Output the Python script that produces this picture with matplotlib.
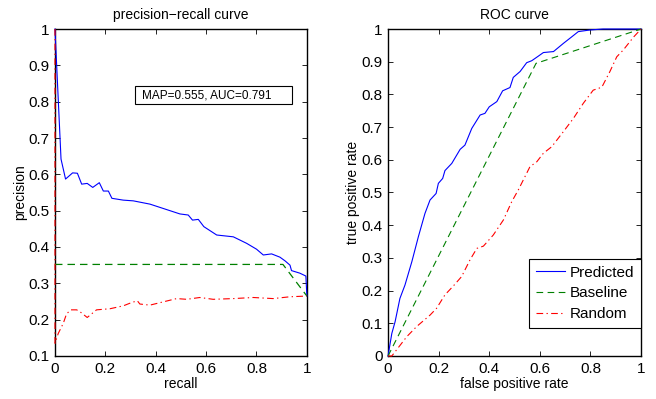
import numpy as np
import matplotlib
matplotlib.use('Agg')
from matplotlib import pyplot as plt
from matplotlib.patches import Rectangle
from matplotlib.ticker import FuncFormatter

plt.rcParams['font.family'] = ['Liberation Sans', 'DejaVu Sans']

# precision-recall data
pr_recall = [0.0, 0.024, 0.042, 0.07, 0.089, 0.106, 0.128, 0.15, 0.176, 0.192, 0.212, 0.226,
             0.271, 0.311, 0.377, 0.43, 0.496, 0.529, 0.546, 0.569, 0.591, 0.642, 0.708,
             0.761, 0.8, 0.827, 0.86, 0.893, 0.913, 0.933, 0.939, 0.972, 0.996, 1.0]
pr_precision = [1.0, 0.642, 0.587, 0.604, 0.603, 0.573, 0.575, 0.564, 0.577, 0.554, 0.554, 0.534,
                0.529, 0.527, 0.518, 0.506, 0.491, 0.488, 0.474, 0.476, 0.456, 0.433, 0.428,
                0.41, 0.394, 0.378, 0.381, 0.372, 0.362, 0.35, 0.335, 0.328, 0.32, 0.265]

base_recall = [0.0, 0.905, 1.0]
base_precision = [0.352, 0.352, 0.265]

rand_recall = [0.0, 0.0, 0.013, 0.033, 0.046, 0.063, 0.086, 0.099, 0.128, 0.165, 0.218, 0.271,
               0.304, 0.327, 0.337, 0.377, 0.43, 0.483, 0.523, 0.575, 0.628, 0.708, 0.787,
               0.866, 0.933, 1.0]
rand_precision = [1.0, 0.135, 0.162, 0.19, 0.216, 0.227, 0.227, 0.222, 0.206, 0.227, 0.23, 0.238,
                  0.247, 0.252, 0.243, 0.24, 0.249, 0.258, 0.256, 0.261, 0.256, 0.258, 0.261,
                  0.258, 0.263, 0.265]

# ROC data
roc_fpr = [0.0, 0.015, 0.028, 0.047, 0.067, 0.094, 0.12, 0.146, 0.166, 0.19, 0.199, 0.216,
           0.225, 0.252, 0.285, 0.304, 0.331, 0.364, 0.383, 0.4, 0.43, 0.453, 0.482, 0.495,
           0.522, 0.548, 0.568, 0.594, 0.614, 0.654, 0.693, 0.726, 0.752, 0.798, 0.85, 1.0]
roc_tpr = [0.0, 0.069, 0.105, 0.176, 0.217, 0.288, 0.365, 0.436, 0.477, 0.497, 0.528, 0.543,
           0.567, 0.589, 0.632, 0.645, 0.696, 0.737, 0.742, 0.762, 0.778, 0.811, 0.821, 0.852,
           0.87, 0.897, 0.903, 0.917, 0.928, 0.931, 0.956, 0.976, 0.992, 0.997, 1.0, 1.0]

base_fpr = [0.0, 0.585, 1.0]
base_tpr = [0.0, 0.895, 1.0]

rand_fpr = [0.0, 0.015, 0.074, 0.113, 0.166, 0.192, 0.225, 0.258, 0.291, 0.324, 0.351, 0.377,
            0.416, 0.456, 0.489, 0.515, 0.561, 0.588, 0.614, 0.647, 0.693, 0.733, 0.772, 0.811,
            0.845, 0.877, 0.904, 0.93, 0.97, 1.0]
rand_tpr = [0.0, 0.0, 0.059, 0.09, 0.125, 0.146, 0.187, 0.214, 0.243, 0.294, 0.329, 0.336,
            0.37, 0.416, 0.472, 0.508, 0.579, 0.594, 0.62, 0.64, 0.686, 0.727, 0.773, 0.813,
            0.822, 0.87, 0.915, 0.936, 0.975, 1.0]

map_auc_text = 'MAP=0.555, AUC=0.791'

blue = (0, 0, 1)
green = (0, 0.5, 0)
red = (1, 0, 0)
dash = (0, (6, 4))
dashdot = (0, (6, 3, 1.2, 3))

fmt = FuncFormatter(lambda v, p: '%g' % round(v, 2))

def style_axes(ax):
    ax.tick_params(direction='in', top=True, right=True, length=3.5, width=0.6,
                   labelsize=11, pad=4)
    for s in ax.spines.values():
        s.set_linewidth(1.0)
        s.set_zorder(1)
    ax.xaxis.set_major_formatter(fmt)
    ax.yaxis.set_major_formatter(fmt)

fig = plt.figure(figsize=(6.56, 3.99), dpi=100)
ax1 = fig.add_axes([0.0838, 0.1078, 0.384, 0.8195])
ax2 = fig.add_axes([0.5915, 0.1078, 0.3857, 0.8195])

ax1.plot(pr_recall, pr_precision, color=blue, lw=0.8, zorder=3, clip_on=False)
ax1.plot(base_recall, base_precision, color=green, lw=0.9, linestyle=dash, zorder=3, clip_on=False)
ax1.plot(rand_recall, rand_precision, color=red, lw=0.8, linestyle=dashdot, zorder=4, clip_on=False)
ax1.set_xlim(0, 1)
ax1.set_ylim(0.1, 1)
ax1.set_xticks(np.arange(0, 1.01, 0.2))
ax1.set_yticks(np.arange(0.1, 1.01, 0.1))
ax1.set_title('precision\u2212recall curve', fontsize=10, pad=7)
ax1.set_xlabel('recall', fontsize=10, labelpad=1)
ax1.set_ylabel('precision', fontsize=10, labelpad=1)
ax1.add_patch(Rectangle((0.317, 0.793), 0.623, 0.05, fc='white', ec='black', lw=0.8, zorder=5))
ax1.text(0.345, 0.818, map_auc_text, fontsize=8.5, va='center', ha='left', zorder=6)
style_axes(ax1)

ax2.plot(roc_fpr, roc_tpr, color=blue, lw=0.8, label='Predicted', zorder=3, clip_on=False)
ax2.plot(base_fpr, base_tpr, color=green, lw=0.8, linestyle=dash, label='Baseline', zorder=3,
         clip_on=False)
ax2.plot(rand_fpr, rand_tpr, color=red, lw=0.8, linestyle=dashdot, label='Random', zorder=3,
         clip_on=False)
ax2.set_xlim(0, 1)
ax2.set_ylim(0, 1)
ax2.set_xticks(np.arange(0, 1.01, 0.2))
ax2.set_yticks(np.arange(0, 1.01, 0.1))
ax2.set_title('ROC curve', fontsize=10, pad=7)
ax2.set_xlabel('false positive rate', fontsize=10, labelpad=1)
ax2.set_ylabel('true positive rate', fontsize=10, labelpad=1)
leg = ax2.legend(loc='lower right', bbox_to_anchor=(1.0, 0.085), fontsize=11, fancybox=False,
                 framealpha=1, edgecolor='black', borderpad=0.45, labelspacing=0.45,
                 handlelength=1.9, handletextpad=0.3, borderaxespad=0)
leg.get_frame().set_linewidth(0.8)
leg.set_zorder(6)
style_axes(ax2)

plt.savefig('out.png', dpi=100)
